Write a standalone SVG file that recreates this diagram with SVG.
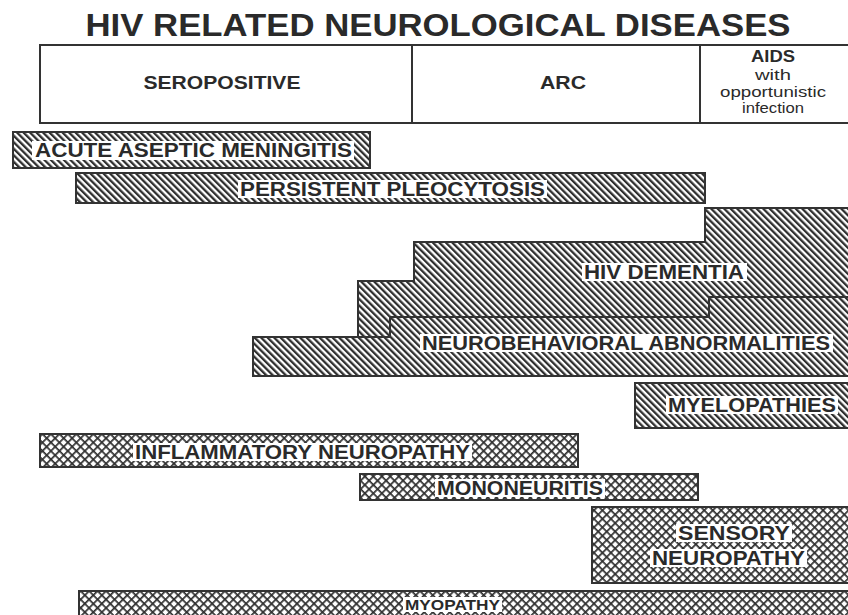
<svg xmlns="http://www.w3.org/2000/svg" width="848" height="615" viewBox="0 0 848 615">
<style>
text{font-family:"Liberation Sans",Arial,sans-serif;font-weight:bold;fill:#2a2a2a}
.bar{stroke:#333;stroke-width:2}
.diag{fill:url(#diag)}
.cross{fill:url(#cross)}
.lbl{fill:#fff}
.t{font-size:20px}
.s{font-size:14px;font-weight:normal}
</style>
<defs>
<pattern id="diag" width="4.6" height="10" patternUnits="userSpaceOnUse" patternTransform="rotate(-45)">
<rect width="4.6" height="10" fill="#fff"/>
<rect width="2.3" height="10" fill="#2e2e2e"/>
</pattern>
<pattern id="cross" width="6" height="6" patternUnits="userSpaceOnUse" patternTransform="rotate(45)">
<rect width="6" height="6" fill="#fff"/>
<rect width="1.7" height="6" fill="#2e2e2e"/>
<rect width="6" height="1.7" fill="#2e2e2e"/>
</pattern>
</defs>
<rect width="848" height="615" fill="#fff"/>
<g id="title"><text x="438" y="36" font-size="32" text-anchor="middle" textLength="705" lengthAdjust="spacingAndGlyphs">HIV RELATED NEUROLOGICAL DISEASES</text></g>
<g id="header">
<rect x="40" y="45" width="812" height="78" fill="none" stroke="#333" stroke-width="2"/>
<line x1="412" y1="45" x2="412" y2="123" stroke="#333" stroke-width="2"/>
<line x1="700" y1="45" x2="700" y2="123" stroke="#333" stroke-width="2"/>
<text x="222" y="89" font-size="18" text-anchor="middle" textLength="157" lengthAdjust="spacingAndGlyphs">SEROPOSITIVE</text>
<text x="563" y="89" font-size="18" text-anchor="middle" textLength="46" lengthAdjust="spacingAndGlyphs">ARC</text>
<text x="773" y="62" font-size="16" text-anchor="middle" textLength="44" lengthAdjust="spacingAndGlyphs">AIDS</text>
<text class="s" x="773" y="80" text-anchor="middle" textLength="36" lengthAdjust="spacingAndGlyphs">with</text>
<text class="s" x="773" y="97" text-anchor="middle" textLength="106" lengthAdjust="spacingAndGlyphs">opportunistic</text>
<text class="s" x="773" y="113" text-anchor="middle" textLength="62" lengthAdjust="spacingAndGlyphs">infection</text>
</g>
<g id="acute">
<rect class="bar diag" x="13" y="132" width="357" height="36"/>
<rect class="lbl" x="32" y="141" width="322" height="19"/>
<text class="t" x="35" y="157" textLength="317" lengthAdjust="spacingAndGlyphs">ACUTE ASEPTIC MENINGITIS</text>
</g>
<g id="pleocytosis">
<rect class="bar diag" x="76" y="173" width="629" height="30"/>
<rect class="lbl" x="238" y="180" width="309" height="18"/>
<text class="t" x="240" y="196" textLength="305" lengthAdjust="spacingAndGlyphs">PERSISTENT PLEOCYTOSIS</text>
</g>
<g id="dementia">
<polygon class="bar diag" points="705,208 850,208 850,297 709,297 709,317 390,317 390,337 358,337 358,281 414,281 414,242 705,242"/>
<rect class="lbl" x="582" y="263" width="165" height="18"/>
<text class="t" x="584" y="279" textLength="160" lengthAdjust="spacingAndGlyphs">HIV DEMENTIA</text>
</g>
<g id="neurobehavioral">
<polygon class="bar diag" points="253,337 390,337 390,317 709,317 709,297 850,297 850,376 253,376"/>
<rect class="lbl" x="420" y="334" width="413" height="18"/>
<text class="t" x="422" y="350" textLength="408" lengthAdjust="spacingAndGlyphs">NEUROBEHAVIORAL ABNORMALITIES</text>
</g>
<g id="myelopathies">
<rect class="bar diag" x="635" y="383" width="215" height="45"/>
<rect class="lbl" x="666" y="396" width="172" height="18"/>
<text class="t" x="668" y="412" textLength="168" lengthAdjust="spacingAndGlyphs">MYELOPATHIES</text>
</g>
<g id="inflammatory">
<rect class="bar cross" x="40" y="434" width="538" height="33"/>
<rect class="lbl" x="133" y="443" width="339" height="18"/>
<text class="t" x="135" y="459" textLength="335" lengthAdjust="spacingAndGlyphs">INFLAMMATORY NEUROPATHY</text>
</g>
<g id="mononeuritis">
<rect class="bar cross" x="360" y="474" width="338" height="26"/>
<rect class="lbl" x="435" y="479" width="170" height="18"/>
<text class="t" x="437" y="495" textLength="166" lengthAdjust="spacingAndGlyphs">MONONEURITIS</text>
</g>
<g id="sensory">
<rect class="bar cross" x="592" y="507" width="258" height="76"/>
<rect class="lbl" x="676" y="524" width="116" height="18"/>
<rect class="lbl" x="650" y="549" width="157" height="18"/>
<text class="t" x="678" y="540" textLength="112" lengthAdjust="spacingAndGlyphs">SENSORY</text>
<text class="t" x="652" y="565" textLength="153" lengthAdjust="spacingAndGlyphs">NEUROPATHY</text>
</g>
<g id="myopathy">
<rect class="bar cross" x="79" y="591" width="771" height="30"/>
<rect class="lbl" x="403" y="597" width="99" height="15"/>
<text x="405" y="610" font-size="15" textLength="95" lengthAdjust="spacingAndGlyphs">MYOPATHY</text>
</g>
<g id="connectors"></g>
</svg>
